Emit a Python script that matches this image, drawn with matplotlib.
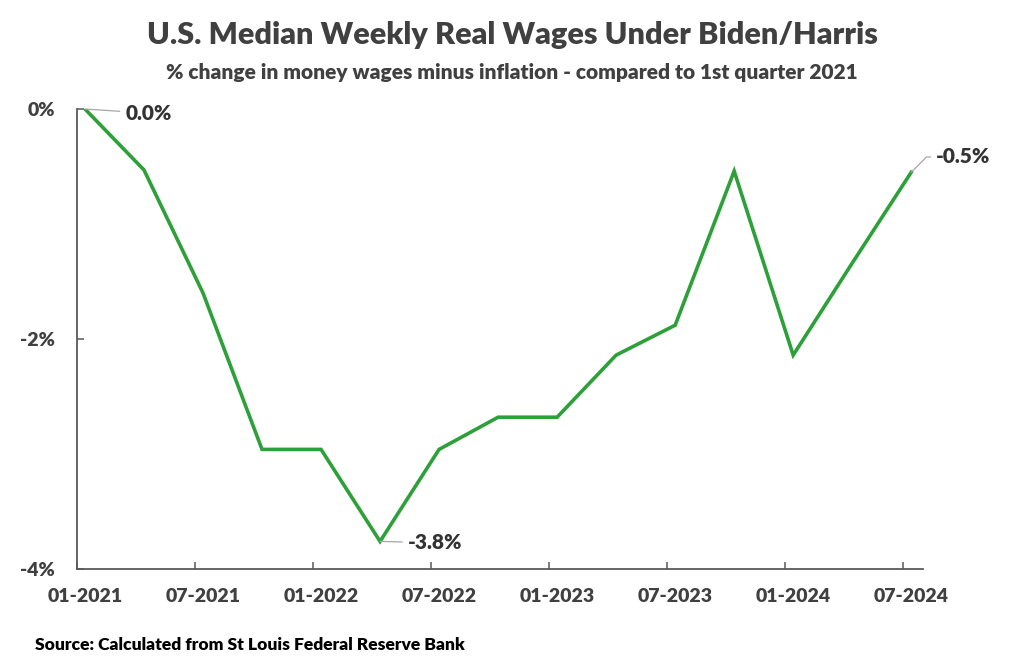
import matplotlib.pyplot as plt
from matplotlib.transforms import ScaledTranslation

# quarterly real wage change vs Q1 2021, in %
quarters = ["2021Q1", "2021Q2", "2021Q3", "2021Q4", "2022Q1", "2022Q2", "2022Q3", "2022Q4",
            "2023Q1", "2023Q2", "2023Q3", "2023Q4", "2024Q1", "2024Q2", "2024Q3"]
real_wage_change = [0.0, -0.53, -1.60, -2.96, -2.96, -3.76, -2.96, -2.68,
                    -2.68, -2.14, -1.88, -0.54, -2.14, -1.34, -0.55]
tick_labels = ["01-2021", "07-2021", "01-2022", "07-2022", "01-2023", "07-2023", "01-2024", "07-2024"]
y_ticks = [0, -2, -4]
y_tick_labels = ["0%", "-2%", "-4%"]
labelled = {0: "0.0%", 5: "-3.8%", 14: "-0.5%"}

GRAY = "#404040"
plt.rcParams["font.family"] = ["Lato", "DejaVu Sans"]
plt.rcParams["font.weight"] = "heavy"


def main():
    fig = plt.figure(figsize=(10.24, 6.68), dpi=100)
    ax = fig.add_axes([0.0752, 0.1482, 0.9014 - 0.0752, 0.8368 - 0.1482])

    x = list(range(len(quarters)))
    ax.plot(x, real_wage_change, color="#2EA03A", lw=2.6, solid_joinstyle="miter")

    # excel date axis: ticks sit a bit left of the data points
    off = 0.135
    ax.set_xlim(-off, len(quarters) - 1 + 0.2)
    ax.set_ylim(-4, 0)
    ax.set_xticks([i - off for i in range(0, len(quarters), 2)])
    ax.set_xticklabels(tick_labels)
    ax.set_yticks(y_ticks)
    ax.set_yticklabels(y_tick_labels)

    for s in ["top", "right"]:
        ax.spines[s].set_visible(False)
    for s in ["left", "bottom"]:
        ax.spines[s].set_color("#595959")
        ax.spines[s].set_linewidth(1.3)
    ax.tick_params(axis="both", direction="in", length=5, width=1.1, color="#595959",
                   labelsize=14, labelcolor=GRAY)
    ax.tick_params(axis="x", pad=14)
    ax.tick_params(axis="y", pad=16)
    shift = ScaledTranslation(8 / 100, 0, fig.dpi_scale_trans)
    for lab in ax.get_xticklabels():
        lab.set_transform(lab.get_transform() + shift)

    offsets = {0: (29, -3, "arc,angleA=0,angleB=0,armA=0,armB=0,rad=0"),
               5: (20, -1, "arc,angleA=0,angleB=0,armA=0,armB=0,rad=0"),
               14: (18, 11, "angle,angleA=0,angleB=45,rad=0")}
    for i, txt in labelled.items():
        dx, dy, cs = offsets[i]
        ax.annotate(txt, (x[i], real_wage_change[i]), xytext=(dx, dy), textcoords="offset points",
                    ha="left", va="center", fontsize=15, color="#333333",
                    arrowprops=dict(arrowstyle="-", color="#A6A6A6", lw=0.9,
                                    connectionstyle=cs, shrinkA=2, shrinkB=0))

    fig.text(0.5, 0.948, "U.S. Median Weekly Real Wages Under Biden/Harris", ha="center",
             va="center", fontsize=22.1, color=GRAY)
    fig.text(0.5, 0.892, "% change in money wages minus inflation - compared to 1st quarter 2021",
             ha="center", va="center", fontsize=15, color=GRAY)
    fig.text(0.034, 0.034, "Source: Calculated from St Louis Federal Reserve Bank", ha="left",
             va="center", fontsize=12.6, color="black")

    fig.savefig("out.png", dpi=100)


if __name__ == "__main__":
    main()
